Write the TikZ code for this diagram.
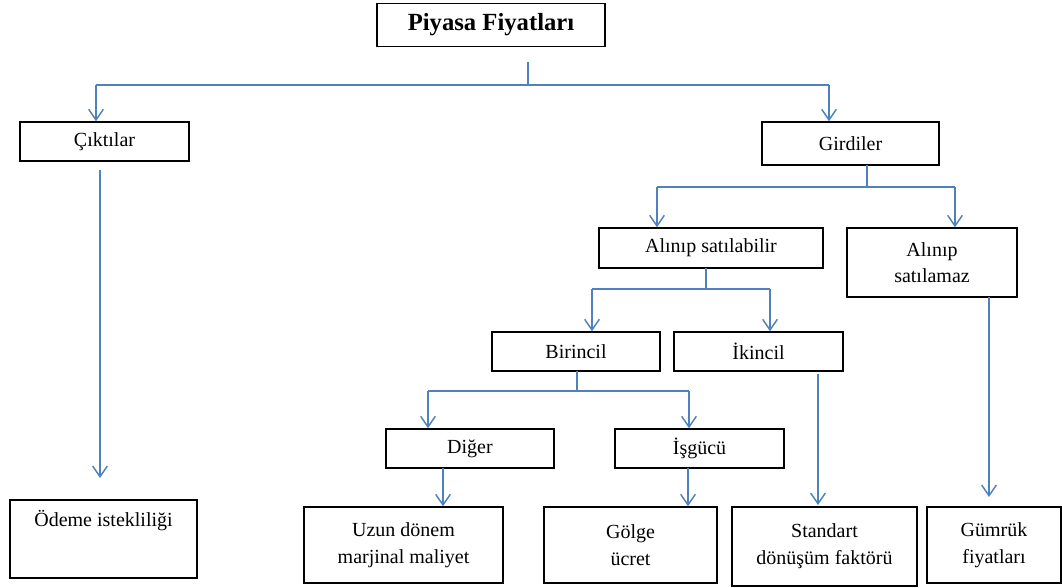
\documentclass[tikz,border=0pt]{standalone}
\usepackage{fontspec}
\setmainfont{Liberation Serif}
\usetikzlibrary{arrows.meta}
\definecolor{lineblue}{RGB}{79,129,189}
\begin{document}
\begin{tikzpicture}[x=0.75pt,y=-0.75pt,
  box/.style={draw=black, line width=1.1pt, inner sep=0pt, align=center,
    font=\fontsize{15}{20}\selectfont},
  sz/.style 2 args={minimum width=#1*0.75pt, minimum height=#2*0.75pt},
  conn/.style={draw=lineblue, line width=1.1pt},
  arr/.style={conn, -{Straight Barb[length=8pt,width=11pt,line width=1.1pt]}}]
\useasboundingbox (0,0) rectangle (1062,588);

% boxes
\node[box, sz={228}{43}, font=\fontsize{18.5}{20}\selectfont\bfseries] (P) at (491,25) {Piyasa Fiyatları};
\node[box, sz={169}{39}] (C) at (104.5,141.5) {Çıktılar};
\node[box, sz={177}{43}] (G) at (850.5,143.5) {Girdiler};
\node[box, sz={224}{40}] (AS) at (711,248) {Alınıp satılabilir};
\node[box, sz={170}{69}] (AZ) at (932,262.5) {Alınıp\\satılamaz};
\node[box, sz={168}{39}] (B) at (576,351.5) {Birincil};
\node[box, sz={169}{39}] (I) at (758.5,351.5) {İkincil};
\node[box, sz={168}{39}] (D) at (470,448.5) {Diğer};
\node[box, sz={169}{39}] (IS) at (699.5,448.5) {İşgücü};
\node[box, sz={199}{76}] (U) at (403.5,545) {Uzun dönem\\marjinal maliyet};
\node[box, sz={173}{76}] (GO) at (630.5,545) {Gölge\\ücret};
\node[box, sz={185}{79}] (S) at (824.5,546.5) {Standart\\dönüşüm faktörü};
\node[box, sz={134}{76}] (GU) at (994,545) {Gümrük\\fiyatları};
\node[box, sz={187}{78}, text height=20pt, text depth=38.5pt] (O) at (103.5,539) {Ödeme istekliliği};

% junction coordinates
\coordinate (p1) at (528,62);
\coordinate (p2) at (528,85);
\coordinate (hl1) at (96,85);
\coordinate (hr1) at (829,85);
\coordinate (c1) at (100,170);
\coordinate (c2) at (100,478);
\coordinate (g1) at (867,165);
\coordinate (g2) at (867,187);
\coordinate (hl2) at (657,187);
\coordinate (hr2) at (955,187);
\coordinate (a1) at (706,268);
\coordinate (a2) at (706,289);
\coordinate (hl3) at (592,289);
\coordinate (hr3) at (770,289);
\coordinate (b1) at (577,371);
\coordinate (b2) at (577,391);
\coordinate (hl4) at (428,391);
\coordinate (hr4) at (689,391);
\coordinate (i1) at (818,374);
\coordinate (i2) at (818,505);
\coordinate (z1) at (989,297);
\coordinate (z2) at (989,497);
\coordinate (d1) at (443,468);
\coordinate (s1) at (688,468);

% connectors
\draw[conn] (p1) -- (p2);
\draw[conn] (hl1) -- (hr1);
\draw[arr] (hl1) -- (hl1 |- C.north);
\draw[arr] (hr1) -- (hr1 |- G.north);
\draw[arr] (c1) -- (c2);
\draw[conn] (g1) -- (g2);
\draw[conn] (hl2) -- (hr2);
\draw[arr] (hl2) -- (hl2 |- AS.north);
\draw[arr] (hr2) -- (hr2 |- AZ.north);
\draw[conn] (a1) -- (a2);
\draw[conn] (hl3) -- (hr3);
\draw[arr] (hl3) -- (hl3 |- B.north);
\draw[arr] (hr3) -- (hr3 |- I.north);
\draw[conn] (b1) -- (b2);
\draw[conn] (hl4) -- (hr4);
\draw[arr] (hl4) -- (hl4 |- D.north);
\draw[arr] (hr4) -- (hr4 |- IS.north);
\draw[arr] (i1) -- (i2);
\draw[arr] (z1) -- (z2);
\draw[arr] (d1) -- (d1 |- U.north);
\draw[arr] (s1) -- (s1 |- GO.north);
\end{tikzpicture}
\end{document}
